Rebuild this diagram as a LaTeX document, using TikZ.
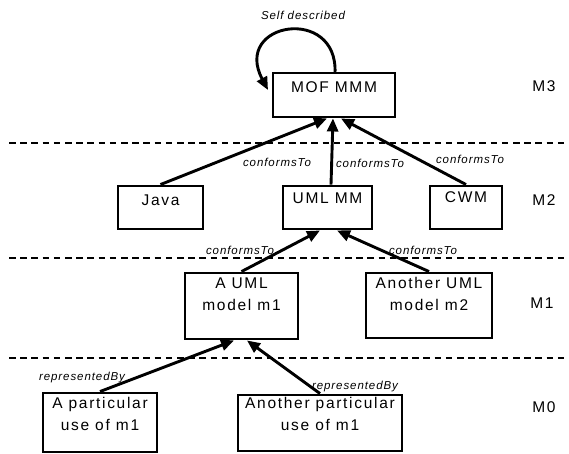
\documentclass[tikz,border=0pt]{standalone}
\usepackage{fontspec}
\setmainfont{Liberation Sans}
\newfontfamily\boxfont[LetterSpace=11]{Liberation Sans}
\newfontfamily\lblfont[LetterSpace=8]{Liberation Sans Italic}
\usetikzlibrary{arrows.meta}
\begin{document}
\begin{tikzpicture}[x=1pt,y=-1pt,
  box/.style={draw, line width=2.9pt, rectangle, inner sep=0pt},
  btext/.style={font=\boxfont\fontsize{15.5}{22}\selectfont, align=center, inner sep=0pt, anchor=north},
  lbl/.style={font=\lblfont\fontsize{11.5}{13}\selectfont, inner sep=0pt},
  lvl/.style={font=\boxfont\fontsize{15.5}{17}\selectfont, inner sep=0pt},
  sep/.style={line width=2.7pt, dash pattern=on 6.5pt off 4.7pt},
  conn/.style={line width=2.9pt, -{Triangle[length=13pt,width=11pt]}}
]
\useasboundingbox (0,0) rectangle (569,454);

% level separators
\coordinate (s1a) at (9,143);  \coordinate (s1b) at (569,143);
\coordinate (s2a) at (9,258);  \coordinate (s2b) at (569,258);
\coordinate (s3a) at (9,358);  \coordinate (s3b) at (569,358);
\draw[sep] (s1a) -- (s1b);
\draw[sep] (s2a) -- (s2b);
\draw[sep] (s3a) -- (s3b);

% boxes
\node[box, minimum width=122pt, minimum height=44pt] (mof) at (334,95) {};
\node[box, minimum width=85pt, minimum height=43pt] (java) at (160.5,207.5) {};
\node[box, minimum width=89pt, minimum height=43pt] (umlmm) at (327.5,207.5) {};
\node[box, minimum width=72pt, minimum height=43pt] (cwm) at (466,207.5) {};
\node[box, minimum width=113pt, minimum height=66pt] (m1) at (241.5,306) {};
\node[box, minimum width=126pt, minimum height=65pt] (m2) at (429,305.5) {};
\node[box, minimum width=114pt, minimum height=59pt] (u1) at (100,422.5) {};
\node[box, minimum width=164pt, minimum height=56pt] (u2) at (320,423) {};

% box texts
\node[btext] (mof-t) at ([yshift=-10pt]mof.north) {MOF MMM};
\node[btext] (java-t) at ([yshift=-10pt]java.north) {Java};
\node[btext] (umlmm-t) at ([yshift=-8pt]umlmm.north) {UML MM};
\node[btext] (cwm-t) at ([yshift=-7pt]cwm.north) {CWM};
\node[btext] (m1-t) at ([yshift=-6pt]m1.north) {A UML\\model m1};
\node[btext] (m2-t) at ([yshift=-6pt]m2.north) {Another UML\\model m2};
\node[btext] (u1-t) at ([yshift=-6pt]u1.north) {A particular\\use of m1};
\node[btext] (u2-t) at ([yshift=-4pt]u2.north) {Another particular\\use of m1};

% level labels
\node[lvl] (M3) at (544,86) {M3};
\node[lvl] (M2) at (544,200) {M2};
\node[lvl] (M1) at (542,303) {M1};
\node[lvl] (M0) at (544,407) {M0};

% connectors
\draw[conn] (java.north) -- ([xshift=-7pt]mof.south);
\draw[conn] ([xshift=3.5pt]umlmm.north) -- ([xshift=-1pt]mof.south);
\draw[conn] (cwm.north) -- ([xshift=7pt]mof.south);
\draw[conn] (m1.north) -- ([xshift=-7.5pt]umlmm.south);
\draw[conn] (m2.north) -- ([xshift=9.5pt]umlmm.south);
\draw[conn] (u1.north) -- ([xshift=-7.5pt]m1.south);
\draw[conn] (u2.north) -- ([xshift=5.5pt]m1.south);

% self loop
\coordinate (loopS) at (335,73);
\coordinate (loopE) at (268,90);
\draw[conn] (loopS) .. controls (338,5) and (232,22) .. (loopE);

% labels
\node[lbl] (self) at (303,15) {Self described};
\node[lbl] (c1) at (277,162) {conformsTo};
\node[lbl] (c2) at (370,163) {conformsTo};
\node[lbl] (c3) at (470,159) {conformsTo};
\node[lbl] (c4) at (240,250) {conformsTo};
\node[lbl] (c5) at (423,250) {conformsTo};
\node[lbl] (r1) at (82,378) {representedBy};
\node[lbl] (r2) at (355,387) {representedBy};
\end{tikzpicture}
\end{document}
